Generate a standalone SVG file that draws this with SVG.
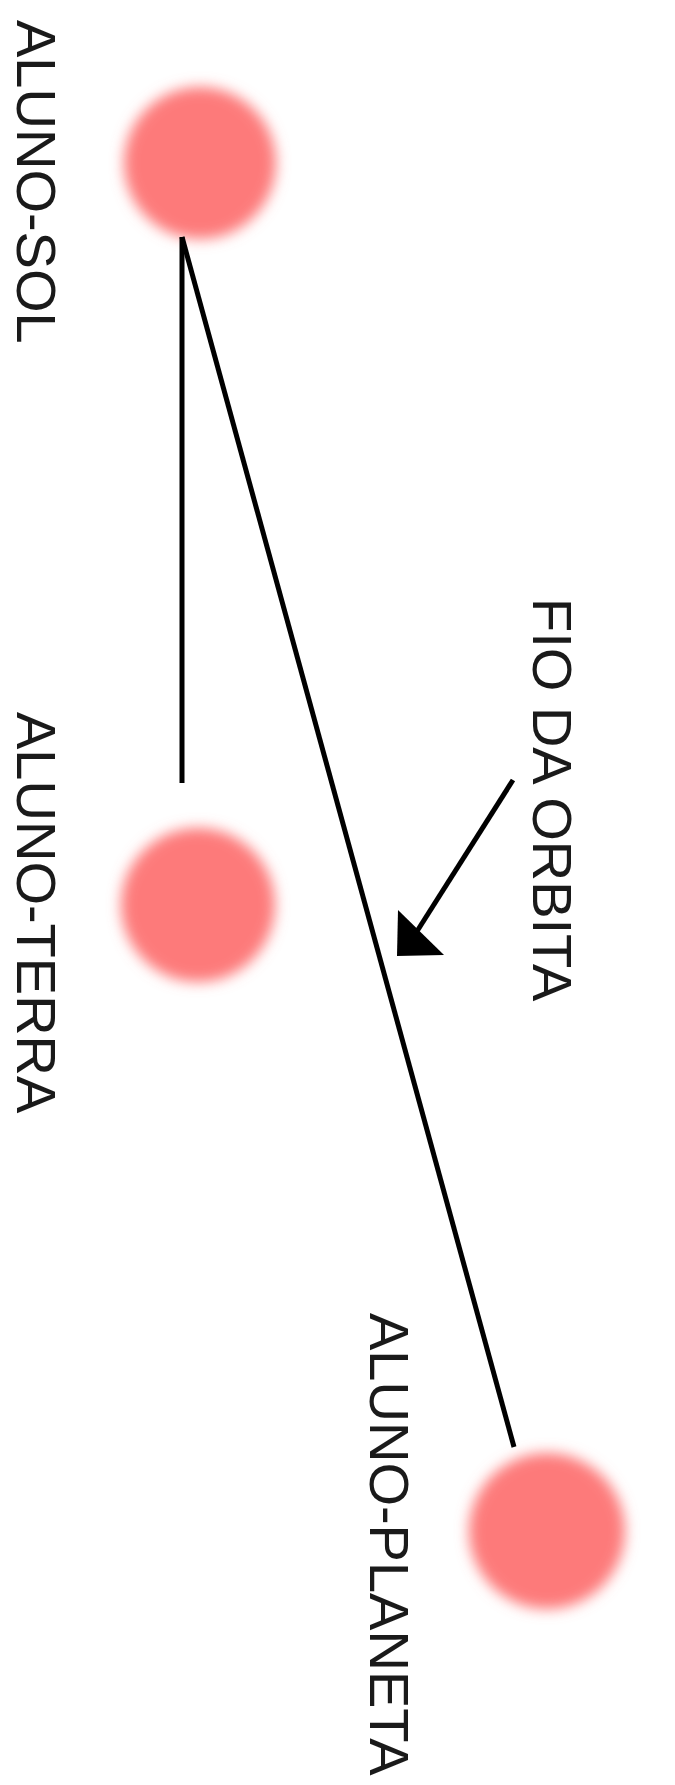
<svg xmlns="http://www.w3.org/2000/svg" width="675" height="1785" viewBox="0 0 675 1785">
<style>
.lbl{font-family:"Liberation Sans",Arial,sans-serif;font-size:56px;fill:#1a1a1a}
.ball{fill:#fd7a7a;filter:url(#soft)}
.wire{stroke:#000;stroke-width:5;fill:none;stroke-linecap:butt}
</style>
<defs>
<filter id="soft" x="-40%" y="-40%" width="180%" height="180%">
<feGaussianBlur stdDeviation="7"/>
</filter>
</defs>
<rect width="675" height="1785" fill="#fff"/>
<g id="aluno-sol">
<circle class="ball" cx="200" cy="163" r="76"/>
<text class="lbl" transform="translate(17,20) rotate(90)">ALUNO-SOL</text>
</g>
<g id="aluno-terra">
<circle class="ball" cx="198" cy="905" r="77"/>
<text class="lbl" transform="translate(17,712) rotate(90)">ALUNO-TERRA</text>
</g>
<g id="aluno-planeta">
<circle class="ball" cx="547" cy="1531" r="78"/>
<text class="lbl" transform="translate(370,1313) rotate(90)">ALUNO-PLANETA</text>
</g>
<g id="fio-label">
<text class="lbl" transform="translate(533,598) rotate(90)">FIO DA ORBITA</text>
</g>
<g id="connectors">
<line class="wire" x1="182" y1="237" x2="182" y2="783"/>
<line class="wire" x1="182" y1="237" x2="514" y2="1447"/>
<line class="wire" stroke-width="4" x1="513" y1="780" x2="414" y2="936"/>
<polygon points="397,956 398,910 444,955" fill="#000"/>
</g>
</svg>
